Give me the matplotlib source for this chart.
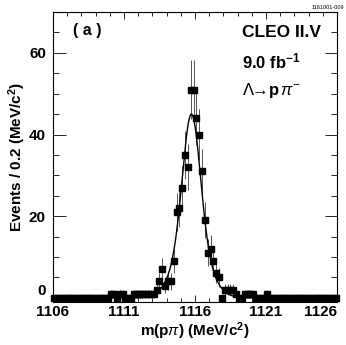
import numpy as np
import matplotlib.pyplot as plt
from matplotlib.ticker import MultipleLocator

plt.rcParams['font.family'] = ['Liberation Sans', 'DejaVu Sans']
plt.rcParams['mathtext.fontset'] = 'custom'
plt.rcParams['mathtext.rm'] = 'Liberation Sans'
plt.rcParams['mathtext.bf'] = 'Liberation Sans:bold'
plt.rcParams['mathtext.it'] = 'Liberation Sans:italic'

# Histogram of m(p pi), 0.2 MeV bins from 1106 to 1126
bin_lo = 1106.0
bin_width = 0.2
counts = [
    0, 0, 0, 0, 0, 0, 0, 0, 0, 0,      # 1106.1 - 1107.9
    0, 0, 0, 0, 0, 0, 0, 0, 0, 0,      # 1108.1 - 1109.9
    1, 1, 0, 1, 1, 0, 0, 0, 1, 1,      # 1110.1 - 1111.9
    1, 1, 1, 1, 1, 1, 2, 4, 7, 3,      # 1112.1 - 1113.9
    4, 4, 9, 21, 22, 27, 35, 32, 51, 51,  # 1114.1 - 1115.9
    44, 40, 31, 19, 11, 12, 9, 6, 5, 0,   # 1116.1 - 1117.9
    2, 2, 2, 2, 1, 0, 0, 1, 1, 1,      # 1118.1 - 1119.9
    1, 0, 0, 0, 0, 1, 0, 0, 0, 0,      # 1120.1 - 1121.9
    0, 0, 0, 0, 0, 0, 0, 0, 0, 0,      # 1122.1 - 1123.9
    0, 0, 0, 0, 0, 0, 0, 0, 0, 0,      # 1124.1 - 1125.9
]

# double gaussian fit parameters
fit_mean = 1115.75
fit_amp1, fit_sig1 = 30.0, 0.60
fit_amp2, fit_sig2 = 15.0, 1.10

x_ticks = [1106, 1111, 1116, 1121, 1126]
y_ticks = [0, 20, 40, 60]

counts = np.array(counts, dtype=float)
centers = bin_lo + bin_width * (np.arange(len(counts)) + 0.5)
errs = np.sqrt(counts)

xf = np.linspace(1106, 1126, 800)
yf = (fit_amp1 * np.exp(-0.5 * ((xf - fit_mean) / fit_sig1) ** 2)
      + fit_amp2 * np.exp(-0.5 * ((xf - fit_mean) / fit_sig2) ** 2))

fig = plt.figure(figsize=(3.46, 3.45), dpi=100)
ax = fig.add_axes([0.153, 0.125, 0.821, 0.840])

ax.errorbar(centers, counts, yerr=errs, fmt='s', color='black', ecolor='#555555',
            elinewidth=0.7, markersize=3.8, capsize=0, clip_on=False, zorder=3)
ax.plot(xf, yf, color='black', linewidth=1.0, zorder=4)

ax.set_xlim(1106, 1126)
ax.set_ylim(-1, 70)
ax.set_xticks(x_ticks)
ax.set_yticks(y_ticks)
ax.xaxis.set_minor_locator(MultipleLocator(1))
ax.yaxis.set_minor_locator(MultipleLocator(5))
ax.tick_params(which='both', direction='in', top=True, right=True, width=0.6)
ax.tick_params(which='major', axis='y', length=9)
ax.tick_params(which='minor', axis='y', length=4.5)
ax.tick_params(which='major', axis='x', length=5)
ax.tick_params(which='minor', axis='x', length=3)
ax.tick_params(axis='x', pad=2)
ax.tick_params(axis='y', pad=5)
fig.canvas.draw()
for lab in ax.get_xticklabels() + ax.get_yticklabels():
    lab.set_fontweight('bold')
    lab.set_fontsize(11)
xl = ax.get_xticklabels()
xl[-1].set_horizontalalignment('right')
yl = ax.get_yticklabels()
yl[0].set_verticalalignment('bottom')
for s in ax.spines.values():
    s.set_linewidth(0.8)

ax.set_xlabel(r'm(p$\pi$) (MeV/c$^{\mathbf{2}}$)', fontsize=11, fontweight='bold', labelpad=1)
ax.set_ylabel(r'Events / 0.2 (MeV/c$^{\mathbf{2}}$)', fontsize=11, fontweight='bold', labelpad=1)

ax.text(0.07, 0.92, '( a )', transform=ax.transAxes, fontsize=11.5, fontweight='bold')
ax.text(0.665, 0.915, 'CLEO II.V', transform=ax.transAxes, fontsize=12.5, fontweight='bold')
ax.text(0.665, 0.805, r'9.0 fb$^{\mathbf{-1}}$', transform=ax.transAxes, fontsize=12, fontweight='bold')
ax.text(0.665, 0.715, r'$\Lambda\!\!\rightarrow\!\mathbf{p}\,\pi^{-}$', transform=ax.transAxes,
        fontsize=12)
fig.text(0.995, 0.985, '1161001-009', ha='right', va='top', fontsize=4)

fig.savefig('out.png', dpi=100)
